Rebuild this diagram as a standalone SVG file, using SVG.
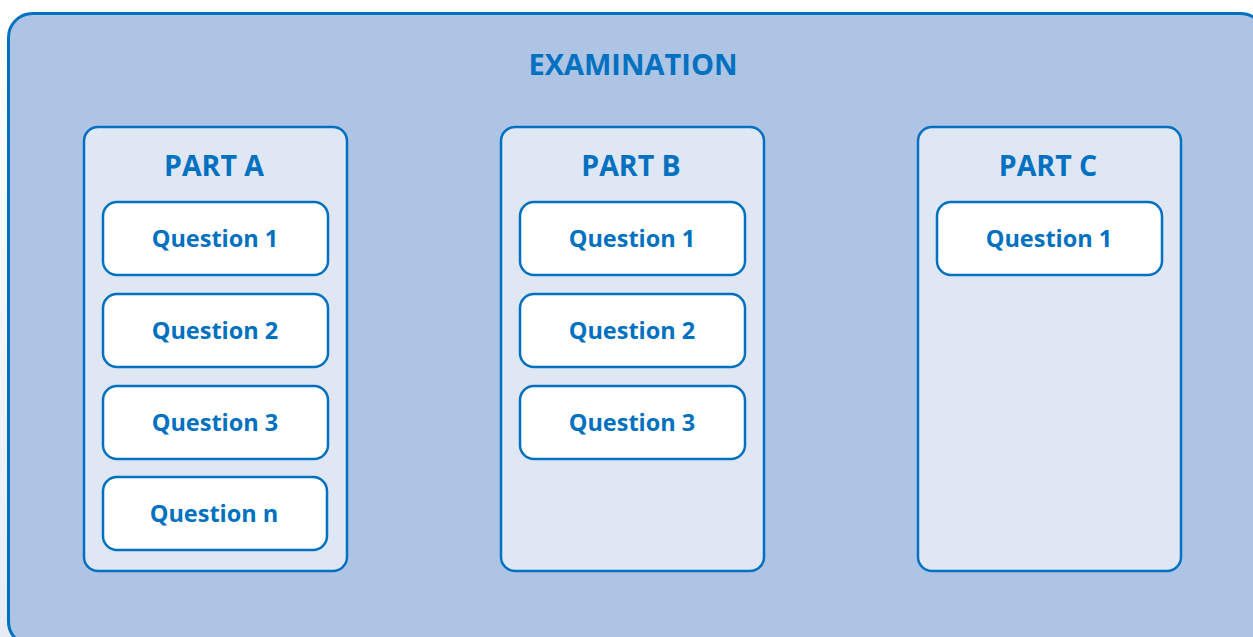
<svg xmlns="http://www.w3.org/2000/svg" width="1253" height="637" viewBox="0 0 1253 637">
<defs>
<linearGradient id="bg" x1="0" y1="0" x2="0" y2="1"><stop offset="0" stop-color="#ffffff"/><stop offset="0.5" stop-color="#f4f6fb"/><stop offset="1" stop-color="#e6ebf5"/></linearGradient>
<style>
.outer{fill:#aec4e5;stroke:#0070c0;stroke-width:3}
.part{fill:#dfe6f4;stroke:#0070c0;stroke-width:2.5}
.q{fill:#ffffff;stroke:#0070c0;stroke-width:2.5}
text{font-family:"Open Sans","Liberation Sans",sans-serif;font-weight:bold;fill:#0070c0;text-anchor:middle}
.t1{font-size:29px}
.t2{font-size:28.5px}
.t3{font-size:23.5px}
</style>
</defs>
<rect width="1253" height="637" fill="url(#bg)"/>
<g id="examination">
<rect class="outer" x="8.5" y="13.5" width="1256" height="632" rx="24"/>
<text class="t1" x="633" y="75">EXAMINATION</text>
</g>
<g id="partA">
<rect class="part" x="84" y="127" width="263" height="444" rx="14"/>
<text class="t2" x="214" y="176">PART A</text>
</g>
<g id="partA-q1"><rect class="q" x="103" y="202" width="225" height="73" rx="14"/><text class="t3" x="215" y="247">Question 1</text></g>
<g id="partA-q2"><rect class="q" x="103" y="294" width="225" height="73" rx="14"/><text class="t3" x="215" y="339">Question 2</text></g>
<g id="partA-q3"><rect class="q" x="103" y="386" width="225" height="73" rx="14"/><text class="t3" x="215" y="431">Question 3</text></g>
<g id="partA-qn"><rect class="q" x="103" y="477" width="224" height="73" rx="14"/><text class="t3" x="214" y="522">Question n</text></g>
<g id="partB">
<rect class="part" x="501" y="127" width="263" height="444" rx="14"/>
<text class="t2" x="631" y="176">PART B</text>
</g>
<g id="partB-q1"><rect class="q" x="520" y="202" width="225" height="73" rx="14"/><text class="t3" x="632" y="247">Question 1</text></g>
<g id="partB-q2"><rect class="q" x="520" y="294" width="225" height="73" rx="14"/><text class="t3" x="632" y="339">Question 2</text></g>
<g id="partB-q3"><rect class="q" x="520" y="386" width="225" height="73" rx="14"/><text class="t3" x="632" y="431">Question 3</text></g>
<g id="partC">
<rect class="part" x="918" y="127" width="263" height="444" rx="14"/>
<text class="t2" x="1048" y="176">PART C</text>
</g>
<g id="partC-q1"><rect class="q" x="937" y="202" width="225" height="73" rx="14"/><text class="t3" x="1049" y="247">Question 1</text></g>
<g id="connectors"></g>
</svg>
